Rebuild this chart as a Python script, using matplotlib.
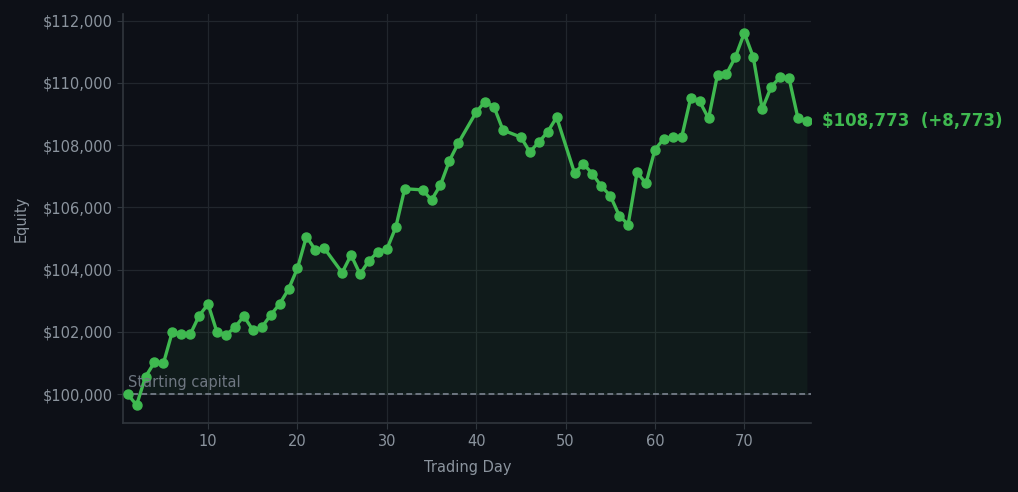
import matplotlib.pyplot as plt
from matplotlib.ticker import FuncFormatter, MultipleLocator

START_CAPITAL = 100000

# trading days (some days have no entry)
days = [1, 2, 3, 4, 5, 6, 7, 8, 9, 10, 11, 12, 13, 14, 15, 16, 17, 18, 19, 20,
        21, 22, 23, 25, 26, 27, 28, 29, 30, 31, 32, 34, 35, 36, 37, 38, 40, 41,
        42, 43, 45, 46, 47, 48, 49, 51, 52, 53, 54, 55, 56, 57, 58, 59, 60, 61,
        62, 63, 64, 65, 66, 67, 68, 69, 70, 71, 72, 73, 74, 75, 76, 77]
equity = [100000, 99645, 100560, 101020, 100985, 102005, 101920, 101920, 102520, 102895,
          101985, 101900, 102145, 102510, 102060, 102145, 102540, 102895, 103370, 104045,
          105060, 104635, 104690, 103905, 104470, 103860, 104290, 104570, 104655, 105360,
          106600, 106565, 106240, 106720, 107500, 108070, 109065, 109405, 109225, 108485,
          108260, 107785, 108100, 108430, 108900, 107110, 107400, 107080, 106680, 106380,
          105740, 105450, 107130, 106770, 107860, 108210, 108270, 108270, 109520, 109410,
          108860, 110270, 110290, 110835, 111605, 110835, 109160, 109870, 110190, 110160,
          108870, 108773]

BG = "#0d1017"
GREEN = "#3fb950"
GRID = "#21262d"
TXT = "#8b949e"

fig = plt.figure(figsize=(10.18, 4.92), dpi=100, facecolor=BG)
ax = fig.add_axes([0.121, 0.140, 0.676, 0.832])
ax.set_facecolor(BG)

ax.fill_between(days, equity, START_CAPITAL, color=GREEN, alpha=0.07, linewidth=0)
ax.plot(days, equity, color=GREEN, linewidth=2.4, marker="o", markersize=6.5, zorder=3)
ax.axhline(START_CAPITAL, color="#6e7681", linestyle=(0, (3, 1.7)), linewidth=1.4, zorder=2)
ax.text(days[0], START_CAPITAL + 120, "Starting capital", color="#6e7681",
        fontsize=10.5, va="bottom", ha="left")

final = equity[-1]
ax.annotate(f"${final:,.0f}  (+{final - START_CAPITAL:,.0f})", xy=(days[-1], final),
            xytext=(11, 0), textcoords="offset points", va="center", ha="left",
            color=GREEN, fontsize=12, fontweight="bold", annotation_clip=False)

ax.set_xlim(0.5, 77.5)
ax.set_ylim(99067, 112225)
ax.xaxis.set_major_locator(MultipleLocator(10))
ax.yaxis.set_major_locator(MultipleLocator(2000))
ax.yaxis.set_major_formatter(FuncFormatter(lambda v, p: f"${v:,.0f}"))

ax.grid(True, color=GRID, linewidth=0.9)
ax.set_axisbelow(True)
for s in ["top", "right"]:
    ax.spines[s].set_visible(False)
for s in ["left", "bottom"]:
    ax.spines[s].set_color("#30363d")
    ax.spines[s].set_linewidth(1.2)
ax.tick_params(colors=TXT, labelsize=10.5, length=4, color="#30363d")

ax.set_xlabel("Trading Day", color=TXT, fontsize=10.5, labelpad=8)
ax.set_ylabel("Equity", color=TXT, fontsize=10.5, labelpad=10)

fig.savefig("out.png", dpi=100, facecolor=BG)
